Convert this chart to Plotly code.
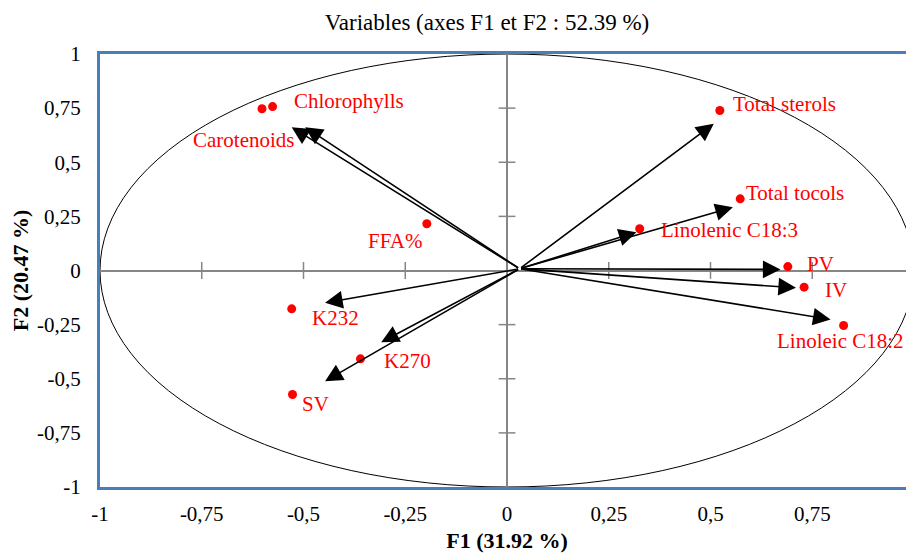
import plotly.graph_objects as go

# ---- data ----
variables = ["Carotenoids", "Chlorophylls", "FFA%", "Total sterols", "Total tocols",
             "Linolenic C18:3", "PV", "IV", "Linoleic C18:2", "K232", "K270", "SV"]
f1 = [-0.602, -0.576, -0.197, 0.523, 0.573, 0.326, 0.690, 0.730, 0.827, -0.529, -0.360, -0.527]
f2 = [0.747, 0.757, 0.216, 0.739, 0.331, 0.193, 0.018, -0.077, -0.254, -0.177, -0.408, -0.573]

# arrow tips (as drawn in the chart); None = no arrow
arrow_f1 = [-0.529, -0.496, None, 0.508, 0.555, 0.318, 0.672, 0.710, 0.795, -0.447, -0.309, -0.447]
arrow_f2 = [0.662, 0.662, None, 0.678, 0.292, 0.177, 0.005, -0.080, -0.226, -0.149, -0.331, -0.511]
arrow_origin = (0.031, 0.008)

tick_vals = [-1, -0.75, -0.5, -0.25, 0, 0.25, 0.5, 0.75, 1]
tick_text = ["-1", "-0,75", "-0,5", "-0,25", "0", "0,25", "0,5", "0,75", "1"]
inner_ticks = [-0.75, -0.5, -0.25, 0.25, 0.5, 0.75]

title = "Variables (axes F1 et F2 : 52.39 %)"
x_title = "F1 (31.92 %)"
y_title = "F2 (20.47 %)"

# ---- style ----
label_shift = {  # pixel offsets of label centre from the point
    "Carotenoids": (-18, -31), "Chlorophylls": (76, 6), "FFA%": (-32, -17),
    "Total sterols": (65, 7), "Total tocols": (55, 6), "Linolenic C18:3": (90, -1),
    "PV": (33, 3), "IV": (32, -3), "Linoleic C18:2": (-3, -16),
    "K232": (44, -9), "K270": (47, -2), "SV": (23, -9),
}
FONT = "Times New Roman, Liberation Serif, serif"
RED = "#ff0000"
GRAY = "#868686"
BLUE = "#4a7ebb"
W, H = 909, 545

fig = go.Figure()

# unit circle
fig.add_shape(type="circle", xref="x", yref="y", x0=-1, y0=-1, x1=1, y1=1,
              line=dict(color="black", width=1), layer="below")

# tick crosses on the zero axes
fig.add_trace(go.Scatter(x=inner_ticks, y=[0] * len(inner_ticks), mode="markers",
                         marker=dict(symbol="line-ns", size=12, line=dict(color=GRAY, width=1.5)),
                         hoverinfo="skip", showlegend=False))
fig.add_trace(go.Scatter(x=[0] * len(inner_ticks), y=inner_ticks, mode="markers",
                         marker=dict(symbol="line-ew", size=12, line=dict(color=GRAY, width=1.5)),
                         hoverinfo="skip", showlegend=False))

# points
fig.add_trace(go.Scatter(x=f1, y=f2, mode="markers",
                         marker=dict(color=RED, size=9), showlegend=False, cliponaxis=False))

annotations = []
ox, oy = arrow_origin
for ax_, ay_ in zip(arrow_f1, arrow_f2):
    if ax_ is None:
        continue
    annotations.append(dict(x=ax_, y=ay_, ax=ox, ay=oy, xref="x", yref="y", axref="x", ayref="y",
                            text="", showarrow=True, arrowhead=2, arrowsize=2.2, arrowwidth=1.6,
                            arrowcolor="black"))
for name, x, y in zip(variables, f1, f2):
    dx, dy = label_shift[name]
    annotations.append(dict(x=x, y=y, xref="x", yref="y", text=name, showarrow=False,
                            xanchor="center", yanchor="middle", xshift=dx, yshift=dy,
                            font=dict(family=FONT, size=21, color=RED)))

fig.update_layout(
    width=W, height=H,
    margin=dict(l=92, r=0, t=46, b=66),
    paper_bgcolor="white", plot_bgcolor="white",
    font=dict(family=FONT, size=21, color="black"),
    title=dict(text=title, x=479 / W, xref="container", xanchor="center",
               y=1 - 14 / H, yref="container", yanchor="middle",
               font=dict(family=FONT, size=23, color="black")),
    annotations=annotations,
    xaxis=dict(range=[-1, 1], tickvals=tick_vals, ticktext=tick_text,
               showgrid=False, zeroline=True, zerolinecolor=GRAY, zerolinewidth=2,
               showline=True, mirror=True, linecolor=BLUE, linewidth=3,
               ticks="outside", ticklen=6, tickcolor="rgba(0,0,0,0)",
               tickfont=dict(family=FONT, size=21),
               title=dict(text="<b>" + x_title + "</b>", font=dict(family=FONT, size=22), standoff=10)),
    yaxis=dict(range=[-1, 1], tickvals=tick_vals, ticktext=tick_text,
               showgrid=False, zeroline=True, zerolinecolor=GRAY, zerolinewidth=2,
               showline=True, mirror=True, linecolor=BLUE, linewidth=3,
               ticks="outside", ticklen=12, tickcolor="rgba(0,0,0,0)",
               tickfont=dict(family=FONT, size=21),
               title=dict(text="<b>" + y_title + "</b>", font=dict(family=FONT, size=22), standoff=13)),
)

fig.write_html("out.html")
